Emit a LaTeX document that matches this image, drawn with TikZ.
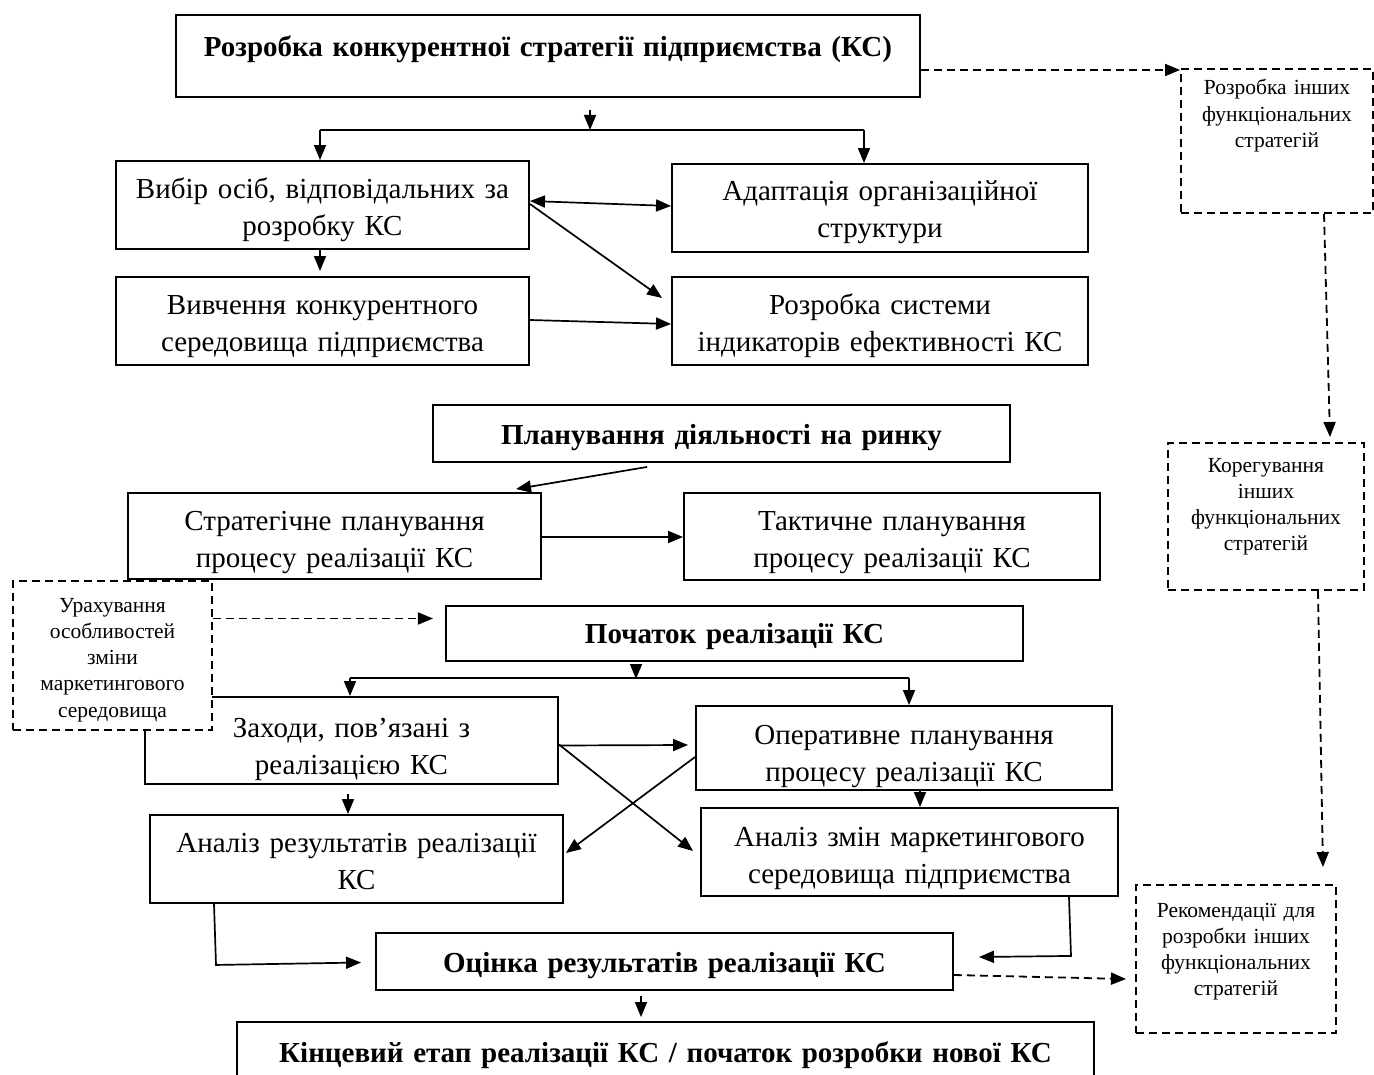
\documentclass[tikz,border=0pt]{standalone}
\usepackage{fontspec}
\setmainfont{Liberation Serif}
\usetikzlibrary{arrows.meta,calc}
\tikzset{
  box/.style={draw, line width=1.9pt, inner sep=0pt, align=center, fill=white,
    font=\fontsize{29}{37}\selectfont},
  titlebox/.style={box, font=\fontsize{29}{37}\selectfont\bfseries},
  dbox/.style={draw, dash pattern=on 8pt off 5pt, line width=1.9pt, inner sep=0pt,
    align=center, fill=white, font=\fontsize{21.5}{26.3}\selectfont},
  arr/.style={line width=1.7pt, -{Triangle[length=15pt,width=12pt]}},
  darr/.style={arr, line width=1.8pt, dash pattern=on 8pt off 5pt},
  biarr/.style={line width=1.7pt, {Triangle[length=15pt,width=12pt]}-{Triangle[length=15pt,width=12pt]}},
  ln/.style={line width=1.7pt},
}
\begin{document}
\begin{tikzpicture}[x=1pt,y=-1pt]
\useasboundingbox (0,0) rectangle (1374,1075);
\clip (0,0) rectangle (1374,1075);
\fill[white] (0,0) rectangle (1374,1075);

% ---------- nodes ----------
\node[titlebox, text width=744pt, text height=42pt, text depth=40pt] (A) at (548,56)
  {Розробка конкурентної стратегії підприємства (КС)};
\node[dbox, text width=192pt, text height=26pt, text depth=118pt] (R1) at (1277,141)
  {Розробка інших\\функціональних\\стратегій};
\node[box, text width=413pt, text height=38pt, text depth=50pt] (B1) at (322.5,205)
  {Вибір осіб, відповідальних за\\розробку КС};
\node[box, text width=416pt, text height=37pt, text depth=51pt] (B2) at (880,208)
  {Адаптація організаційної\\структури};
\node[box, text width=413pt, text height=38pt, text depth=50pt] (B3) at (322.5,321)
  {Вивчення конкурентного\\середовища підприємства};
\node[box, text width=416pt, text height=38pt, text depth=50pt] (B4) at (880,321)
  {Розробка системи\\індикаторів ефективності КС};
\node[titlebox, text width=577pt, text height=39pt, text depth=18pt] (P) at (721.5,433.5)
  {Планування діяльності на ринку};
\node[dbox, text width=196pt, text height=29pt, text depth=118pt] (R2) at (1266,516.5)
  {Корегування\\інших\\функціональних\\стратегій};
\node[box, text width=413pt, text height=37pt, text depth=49pt] (S1) at (334.5,536)
  {Стратегічне планування\\процесу реалізації КС};
\node[box, text width=416pt, text height=37pt, text depth=50pt] (S2) at (892,536.5)
  {Тактичне планування\\процесу реалізації КС};
\node[titlebox, text width=577pt, text height=37pt, text depth=18pt] (Start) at (734.5,633.5)
  {Початок реалізації КС};
\node[box, text width=413pt, text height=40pt, text depth=47pt] (Z) at (351.5,740.5)
  {Заходи, пов’язані з\\реалізацією КС};
\node[dbox, text width=199pt, text height=31pt, text depth=118pt] (U) at (112.5,655.5)
  {Урахування\\особливостей\\зміни\\маркетингового\\середовища};
\node[box, text width=416pt, text height=38pt, text depth=46pt] (O) at (904,748)
  {Оперативне планування\\процесу реалізації КС};
\node[box, text width=413pt, text height=37pt, text depth=51pt] (AR) at (356.5,859)
  {Аналіз результатів реалізації\\КС};
\node[box, text width=417pt, text height=38pt, text depth=50pt] (AZ) at (909.5,852)
  {Аналіз змін маркетингового\\середовища підприємства};
\node[titlebox, text width=577pt, text height=39pt, text depth=18pt] (E) at (664.5,961.5)
  {Оцінка результатів реалізації КС};
\node[dbox, text width=200pt, text height=32pt, text depth=116pt] (R3) at (1236,959)
  {Рекомендації для\\розробки інших\\функціональних\\стратегій};
\node[titlebox, text width=857pt, text height=40pt, text depth=34pt] (K) at (665.5,1059)
  {Кінцевий етап реалізації КС / початок розробки нової КС};

% ---------- junctions ----------
\coordinate (jA) at (590,130);
\coordinate (jB1) at (320,130);
\coordinate (jB2) at (864,130);
\coordinate (jS) at (636,679);
\coordinate (jZ) at (350,678);
\coordinate (jO) at (909,678);

% ---------- connectors: top part ----------
\draw[arr] ([xshift=42pt,yshift=-12pt]A.south) -- (jA);
\draw[ln] (jB1) -- (jB2);
\draw[arr] (jB1) -- (jB1 |- B1.north);
\draw[arr] (jB2) -- (jB2 |- B2.north);
\draw[biarr] ([yshift=4pt]B1.east) -- ([yshift=2pt]B2.west);
\draw[arr] ([yshift=1pt]B1.east) -- ([xshift=-9pt,yshift=23pt]B4.west);
\draw[arr] (B1.south -| jB1) -- ([yshift=5pt]jB1 |- B3.north);
\draw[arr] ([yshift=1pt]B3.east) -- ([yshift=-3pt]B4.west);

% dashed side chain
\draw[darr] ([yshift=-14pt]A.east) -- ([yshift=-14pt]A.east -| R1.west);
\draw[darr] ([xshift=47pt]R1.south) -- ([xshift=64pt,yshift=5pt]R2.north);
\draw[darr] ([xshift=52pt]R2.south) -- ([xshift=87pt,yshift=17pt]R3.north);

% ---------- planning ----------
\draw[arr] ([xshift=-74.5pt,yshift=-4pt]P.south) -- ([xshift=181.5pt,yshift=3pt]S1.north);
\draw[arr] ([yshift=-1pt]S1.east) -- ([yshift=-1pt]S1.east -| S2.west);
\draw[darr] ([yshift=37pt]U.east) -- ++(220,0);

% ---------- realisation ----------
\draw[arr] ([xshift=-98.5pt,yshift=-4pt]Start.south) -- (jS);
\draw[ln] (jZ) -- (jO);
\draw[arr] (jZ) -- (jZ |- Z.north);
\draw[arr] (jO) -- (jO |- O.north);
\draw[arr] ([yshift=-5pt]Z.east) -- ([xshift=-7pt,yshift=3pt]O.west);
\draw[arr] ([yshift=-4pt]Z.east) -- ([xshift=-7pt,yshift=1pt]AZ.west);
\draw[arr] ([yshift=-9pt]O.west) -- ([xshift=2pt,yshift=6pt]AR.east);
\draw[arr] ([xshift=-3.5pt,yshift=-9pt]Z.south) -- ([xshift=-8.5pt]AR.north);
\draw[arr] ([xshift=16pt]O.south) -- ([xshift=10.5pt]AZ.north);

% ---------- evaluation ----------
\draw[arr] ([xshift=-142.5pt]AR.south) -- ++(2,61) -- ([xshift=-14pt,yshift=-1pt]E.west);
\draw[arr] ([xshift=159.5pt]AZ.south) -- ++(2,59) -- ([xshift=25pt,yshift=4.5pt]E.east);
\draw[darr] ([yshift=-13.5pt]E.east) -- ([xshift=-9pt,yshift=-20pt]R3.west);
\draw[arr] ([xshift=-23.5pt,yshift=-5pt]E.south) -- ([xshift=-24.5pt,yshift=4pt]K.north);
\end{tikzpicture}
\end{document}
